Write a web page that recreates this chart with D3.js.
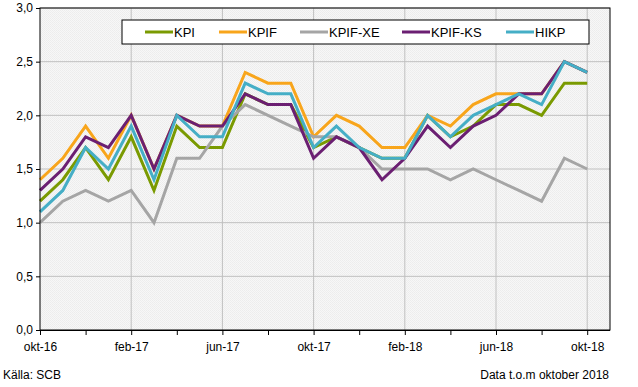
<!DOCTYPE html>
<html>
<head>
<meta charset="utf-8">
<script src="https://cdn.jsdelivr.net/npm/d3@7"></script>
<style>
  body { margin: 0; background: #fff; }
  text { font-family: "Liberation Sans", Arial, sans-serif; }
</style>
</head>
<body>
<div class="chart"></div>
<script>
// month labels okt-16 .. okt-18
var months = ["okt-16","nov-16","dec-16","jan-17","feb-17","mar-17","apr-17","maj-17","jun-17","jul-17","aug-17","sep-17",
  "okt-17","nov-17","dec-17","jan-18","feb-18","mar-18","apr-18","maj-18","jun-18","jul-18","aug-18","sep-18","okt-18"];
var tickLabels = ["okt-16","feb-17","jun-17","okt-17","feb-18","jun-18","okt-18"];
var yTicks = [0, 0.5, 1, 1.5, 2, 2.5, 3];

var seriesNames = ["KPI", "KPIF", "KPIF-XE", "KPIF-KS", "HIKP"];
var seriesColors = ["#7a9a01", "#f8a51b", "#a5a5a5", "#6b1f72", "#45aec6"];

var kpi    = [1.2,1.4,1.7,1.4,1.8,1.3,1.9,1.7,1.7,2.2,2.1,2.1,1.7,1.8,1.7,1.6,1.6,2.0,1.8,1.9,2.1,2.1,2.0,2.3,2.3];
var kpif   = [1.4,1.6,1.9,1.6,2.0,1.5,2.0,1.9,1.9,2.4,2.3,2.3,1.8,2.0,1.9,1.7,1.7,2.0,1.9,2.1,2.2,2.2,2.2,2.5,2.4];
var kpifXe = [1.0,1.2,1.3,1.2,1.3,1.0,1.6,1.6,1.9,2.1,2.0,1.9,1.8,1.8,1.7,1.5,1.5,1.5,1.4,1.5,1.4,1.3,1.2,1.6,1.5];
var kpifKs = [1.3,1.5,1.8,1.7,2.0,1.5,2.0,1.9,1.9,2.2,2.1,2.1,1.6,1.8,1.7,1.4,1.6,1.9,1.7,1.9,2.0,2.2,2.2,2.5,2.4];
var hikp   = [1.1,1.3,1.7,1.5,1.9,1.4,2.0,1.8,1.8,2.3,2.2,2.2,1.7,1.9,1.7,1.6,1.6,2.0,1.8,2.0,2.1,2.2,2.1,2.5,2.4];
var seriesValues = [kpi, kpif, kpifXe, kpifKs, hikp];

var svgWidth = 638;
var svgHeight = 387;
var margin = { top: 8, right: 28, bottom: 57, left: 40 };
var width = svgWidth - margin.left - margin.right;
var height = svgHeight - margin.top - margin.bottom;

var svg = d3.select(".chart")
  .append("svg")
  .attr("width", svgWidth)
  .attr("height", svgHeight);

// dithered light grey background like the original
var defs = svg.append("defs");
var pat = defs.append("pattern")
  .attr("id", "dither")
  .attr("width", 2).attr("height", 2)
  .attr("patternUnits", "userSpaceOnUse");
pat.append("rect").attr("width", 2).attr("height", 2).attr("fill", "#f7f7f7");
pat.append("rect").attr("width", 1).attr("height", 1).attr("fill", "#ececec");
pat.append("rect").attr("x", 1).attr("y", 1).attr("width", 1).attr("height", 1).attr("fill", "#eeeeee");

var chartGroup = svg.append("g")
  .attr("transform", `translate(${margin.left}, ${margin.top})`);

// x: month index, plot runs one month past the last point
var xScale = d3.scaleLinear()
  .domain([0, months.length])
  .range([0, width]);

var yScale = d3.scaleLinear()
  .domain([0, 3])
  .range([height, 0]);

chartGroup.append("rect")
  .attr("width", width)
  .attr("height", height)
  .attr("fill", "url(#dither)");

// horizontal grid
chartGroup.selectAll(".hgrid")
  .data(yTicks.slice(1))
  .enter()
  .append("line")
  .attr("x1", 0)
  .attr("x2", width)
  .attr("y1", d => yScale(d))
  .attr("y2", d => yScale(d))
  .attr("stroke", "#c0c0c0")
  .attr("stroke-width", 1);

// vertical grid at labelled months
chartGroup.selectAll(".vgrid")
  .data(tickLabels.slice(1))
  .enter()
  .append("line")
  .attr("x1", d => xScale(months.indexOf(d)))
  .attr("x2", d => xScale(months.indexOf(d)))
  .attr("y1", 0)
  .attr("y2", height)
  .attr("stroke", "#c0c0c0")
  .attr("stroke-width", 1);

// lines
var line = d3.line()
  .x((d, i) => xScale(i))
  .y(d => yScale(d));

seriesValues.forEach(function(vals, k) {
  chartGroup.append("path")
    .datum(vals)
    .attr("fill", "none")
    .attr("stroke", seriesColors[k])
    .attr("stroke-width", 3)
    .attr("stroke-linejoin", "miter")
    .attr("d", line);
});

// frame
chartGroup.append("rect")
  .attr("width", width)
  .attr("height", height)
  .attr("fill", "none")
  .attr("stroke", "#000")
  .attr("stroke-width", 1);

// axes
var bottomAxis = d3.axisBottom(xScale)
  .tickValues(d3.range(0, months.length, 2))
  .tickSize(5)
  .tickFormat(i => tickLabels.indexOf(months[i]) >= 0 ? months[i] : "");

var leftAxis = d3.axisLeft(yScale)
  .tickValues(yTicks)
  .tickSize(4)
  .tickFormat(d => d3.format(".1f")(d).replace(".", ","));

var xAxisG = chartGroup.append("g")
  .attr("transform", `translate(0, ${height})`)
  .call(bottomAxis);
xAxisG.select(".domain").attr("stroke", "#000").attr("d", `M0.5,0.5H${width}`);
xAxisG.selectAll("text").attr("font-size", "12px").attr("fill", "#000").attr("dy", "1.1em");

var yAxisG = chartGroup.append("g")
  .call(leftAxis);
yAxisG.select(".domain").remove();
yAxisG.selectAll("text").attr("font-size", "12px").attr("fill", "#000").attr("x", -7);

// legend
var legend = chartGroup.append("g")
  .attr("transform", "translate(82, 12)");
legend.append("rect")
  .attr("width", 467)
  .attr("height", 24)
  .attr("fill", "#fff")
  .attr("stroke", "#000");
var legendX = [23, 97, 178, 280, 384];
seriesNames.forEach(function(name, k) {
  var g = legend.append("g").attr("transform", `translate(${legendX[k]}, 12)`);
  g.append("line")
    .attr("x1", 0).attr("x2", 28)
    .attr("stroke", seriesColors[k])
    .attr("stroke-width", 3);
  g.append("text")
    .attr("x", 29)
    .attr("dy", "0.36em")
    .attr("font-size", "13px")
    .text(name);
});

// footer texts
svg.append("text")
  .attr("x", 3)
  .attr("y", 379)
  .attr("font-size", "12px")
  .text("Källa: SCB");

svg.append("text")
  .attr("x", 609)
  .attr("y", 379)
  .attr("text-anchor", "end")
  .attr("font-size", "12px")
  .text("Data t.o.m oktober 2018");
</script>
</body>
</html>
